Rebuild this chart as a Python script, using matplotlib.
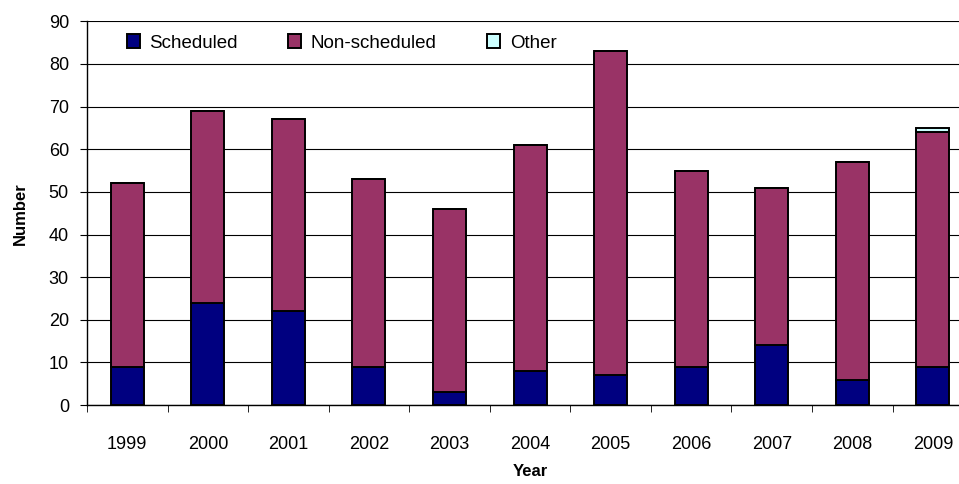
import matplotlib.pyplot as plt
import numpy as np

plt.rcParams['font.family'] = ['Liberation Sans', 'DejaVu Sans']

years = ['1999', '2000', '2001', '2002', '2003', '2004', '2005', '2006', '2007', '2008', '2009']
scheduled = [9, 24, 22, 9, 3, 8, 7, 9, 14, 6, 9]
non_scheduled = [43, 45, 45, 44, 43, 53, 76, 46, 37, 51, 55]
other = [0, 0, 0, 0, 0, 0, 0, 0, 0, 0, 1]

fig = plt.figure(figsize=(9.59, 4.84), dpi=100)
# plot area runs past the right edge of the image, as in the original
ax = fig.add_axes([0.0907, 0.163, 0.924, 0.793])

x = np.arange(len(years))
w = 0.41
sched = np.array(scheduled)
nons = np.array(non_scheduled)

ax.bar(x, sched, w, color='#000080', edgecolor='black', linewidth=1.4, label='Scheduled', zorder=3)
ax.bar(x, nons, w, bottom=sched, color='#993366', edgecolor='black', linewidth=1.4, label='Non-scheduled', zorder=3)
ax.bar(x, other, w, bottom=sched + nons, color='#CCFFFF', edgecolor='black', linewidth=1.4, label='Other', zorder=3)

ax.set_xlim(-0.5, len(years) - 0.5)
ax.set_ylim(0, 90)
ax.set_yticks(range(0, 91, 10))
ax.yaxis.grid(True, color='black', linewidth=0.8, zorder=0)
ax.set_xticks(x)
ax.set_xticklabels(years, fontsize=13)
ax.set_xticks(np.arange(-0.5, len(years)), minor=True)
ax.tick_params(axis='x', which='major', length=0, pad=22)
ax.tick_params(axis='x', which='minor', length=5, direction='out')
ax.tick_params(axis='y', length=5, direction='out', labelsize=13, pad=8)

for s in ['top', 'right']:
    ax.spines[s].set_visible(False)
ax.spines['left'].set_linewidth(1)
ax.spines['bottom'].set_linewidth(1)

ax.set_xlabel('Year', fontsize=12, fontweight='bold', labelpad=8)
ax.set_ylabel('Number', fontsize=12, fontweight='bold', labelpad=15)

leg = ax.legend(loc='upper left', bbox_to_anchor=(0.03, 1.0), ncol=3, fontsize=13.5,
                frameon=False,
                handlelength=0.7, handleheight=0.7, columnspacing=2.7, handletextpad=0.5,
                borderaxespad=0.3)

fig.savefig('out.png', dpi=100)
